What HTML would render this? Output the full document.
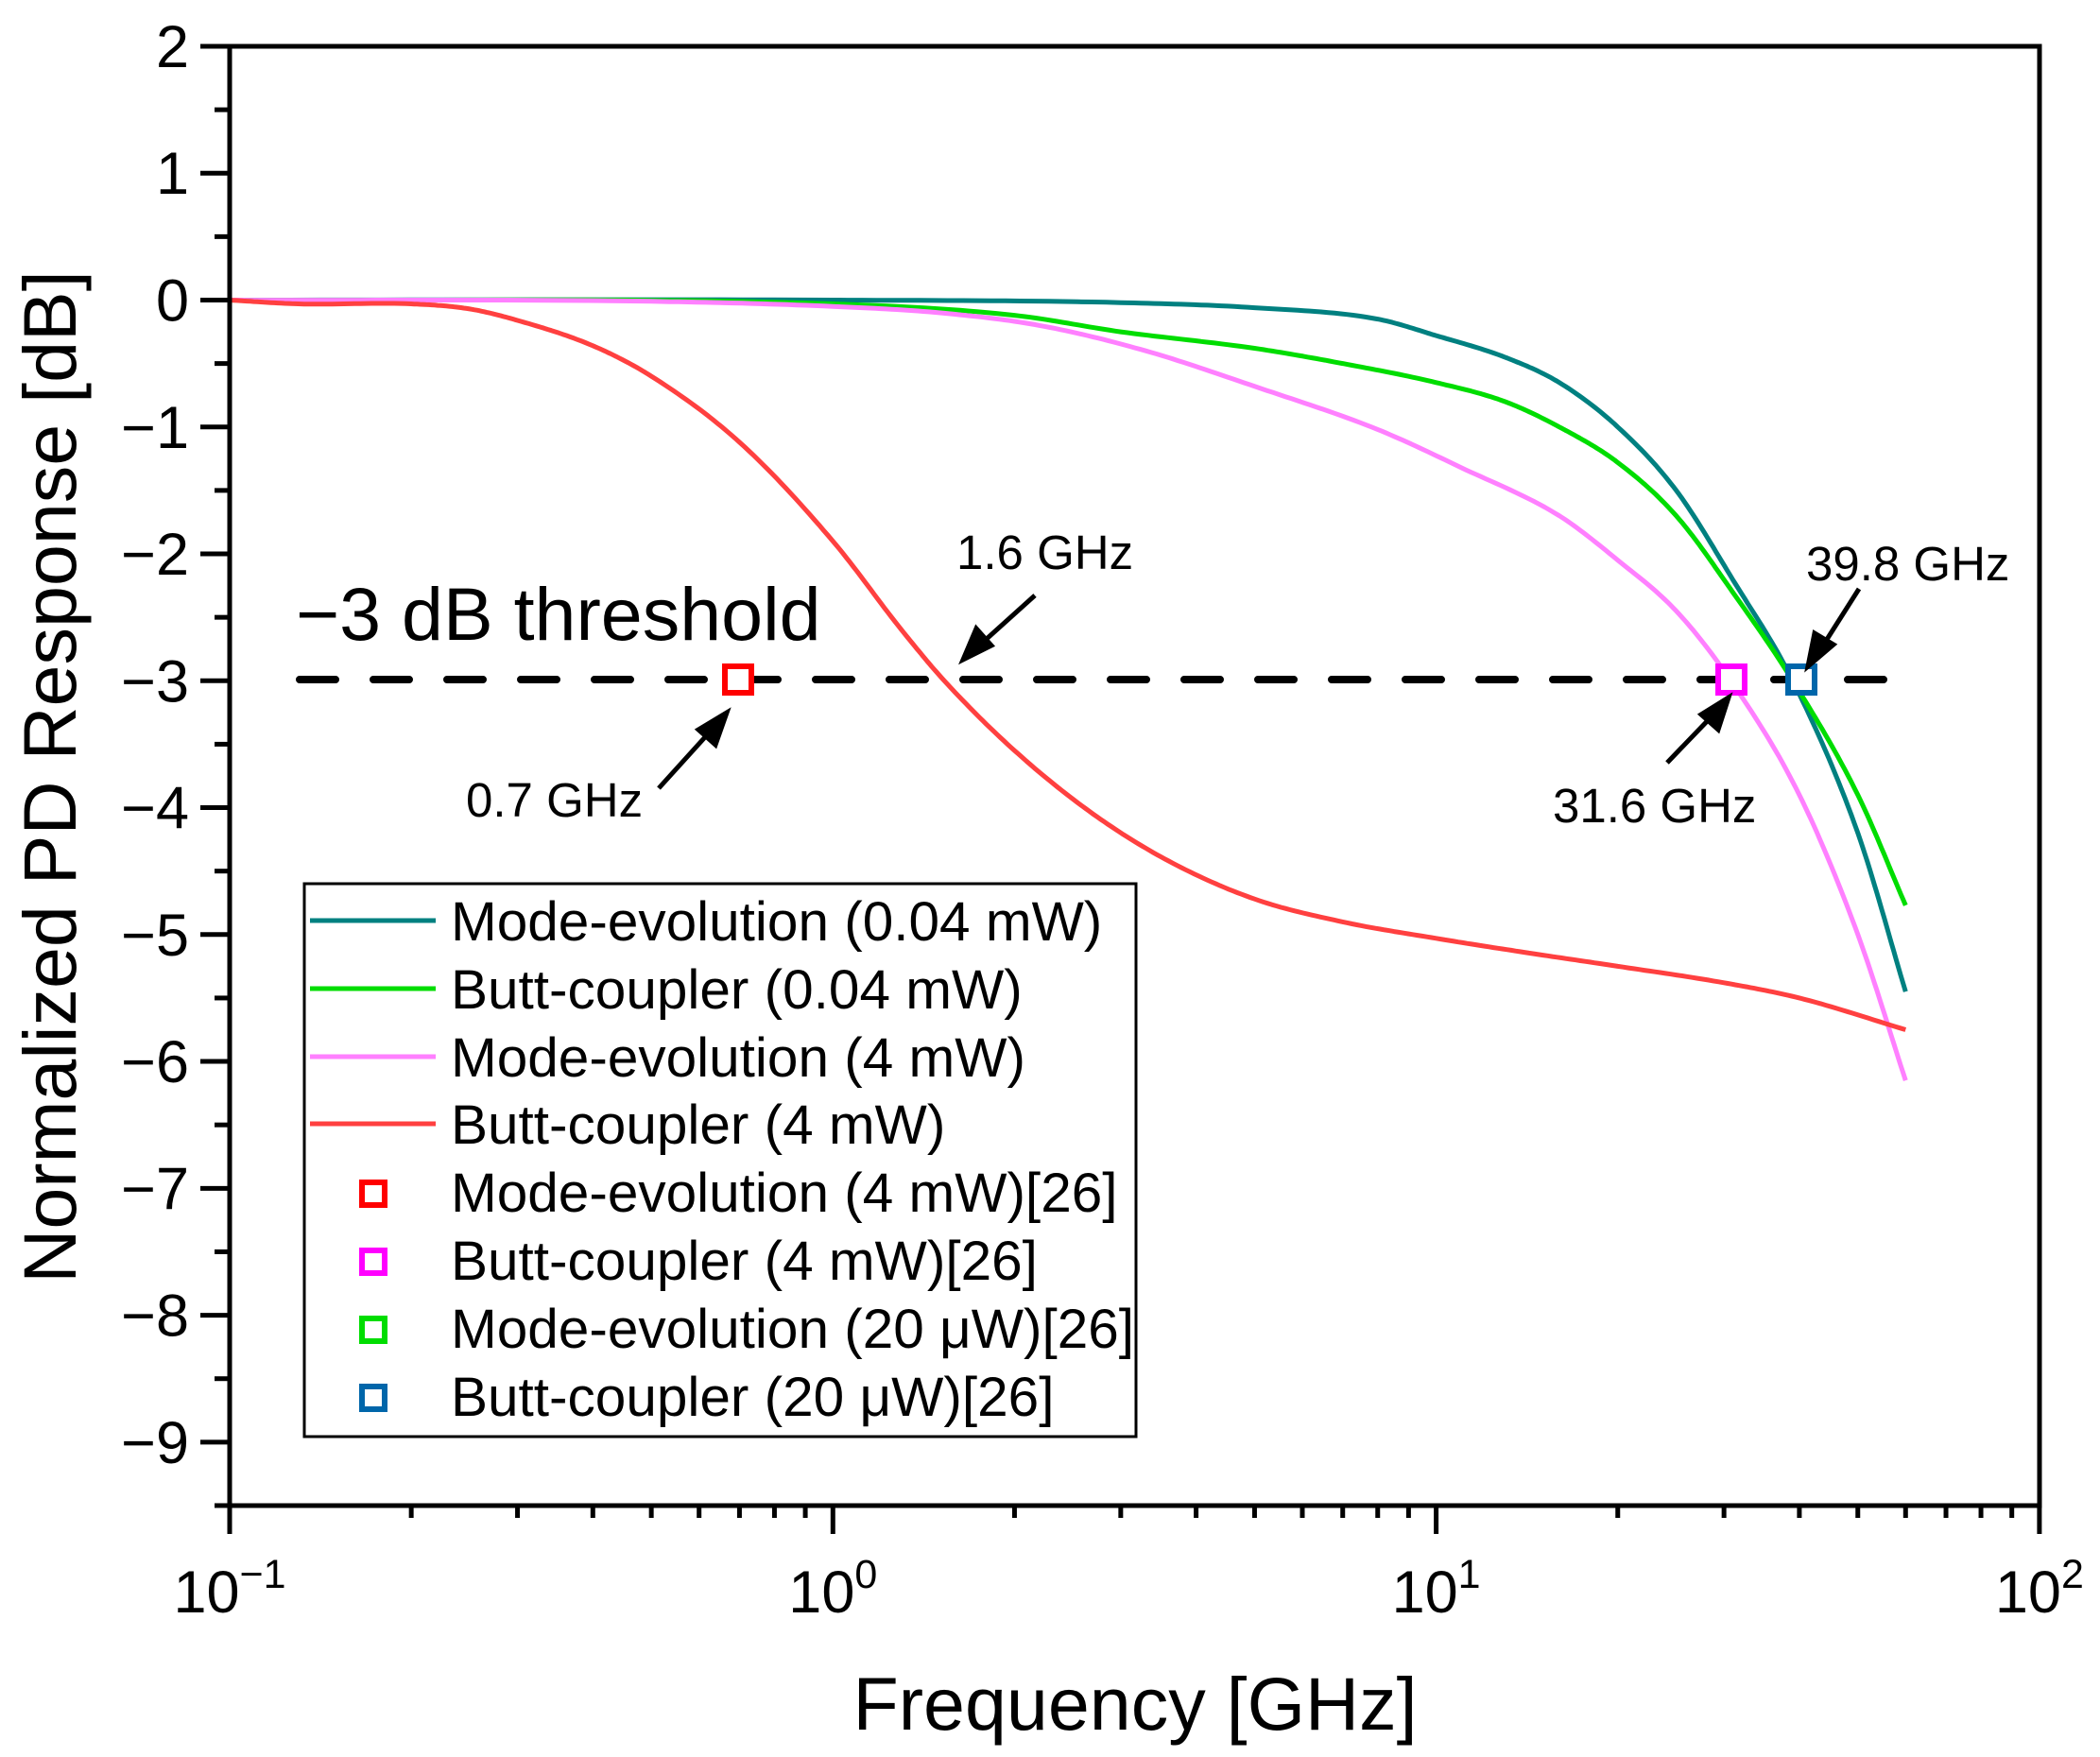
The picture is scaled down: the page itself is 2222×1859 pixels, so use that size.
<!DOCTYPE html>
<html><head><meta charset="utf-8"><style>
html,body{margin:0;padding:0;background:#fff}
svg{display:block}
text{font-family:"Liberation Sans",Arial,sans-serif;fill:#000}
</style></head><body>
<svg id="s" width="2222" height="1859" viewBox="0 0 2222 1859" xmlns="http://www.w3.org/2000/svg">
<g id="ticks" stroke="#000" stroke-width="5"></g>
<g id="curves" fill="none" stroke-width="5" stroke-linejoin="round"></g>
<line x1="317" y1="719" x2="1997" y2="719" stroke="#000" stroke-width="8" stroke-dasharray="38 40" stroke-linecap="round"/>
<g fill="#fff" stroke-width="6">
<rect x="767" y="705" width="28" height="28" stroke="#ff0000"/>
<rect x="1818" y="705" width="28" height="28" stroke="#ff00ff"/>
<rect x="1892" y="705" width="28" height="28" stroke="#0066aa"/>
</g>
<rect x="243" y="49" width="1915" height="1544" fill="none" stroke="#000" stroke-width="5"/>
<g stroke="#000" stroke-width="5" fill="#000">
<line x1="1095" y1="630" x2="1035" y2="684"/><polygon points="1019,698 1033,665 1049,683"/>
<line x1="697" y1="834" x2="755" y2="770"/><polygon points="769,754 757,788 739,772"/>
<line x1="1764" y1="807" x2="1815" y2="754"/><polygon points="1829,738 1818,772 1800,756"/>
<line x1="1967" y1="623" x2="1927" y2="686"/><polygon points="1913,705 1920,670 1940,682"/>
</g>
<g font-size="51">
<text x="1012" y="602">1.6 GHz</text>
<text x="493" y="864">0.7 GHz</text>
<text x="1643" y="870">31.6 GHz</text>
<text x="1911" y="614">39.8 GHz</text>
</g>
<text x="313" y="677" font-size="79">−3 dB threshold</text>
<g id="tl" font-size="63" text-anchor="end"></g>
<g id="xl" font-size="63" text-anchor="middle"></g>
<text transform="translate(80,822) rotate(-90)" font-size="79" text-anchor="middle">Normalized PD Response [dB]</text>
<text x="1201" y="1830" font-size="79" text-anchor="middle">Frequency [GHz]</text>
<rect x="322" y="935" width="880" height="585" fill="#fff" stroke="#000" stroke-width="3"/>
<g stroke-width="5">
<line x1="328" y1="974" x2="461" y2="974" stroke="#008080"/>
<line x1="328" y1="1046" x2="461" y2="1046" stroke="#00dd00"/>
<line x1="328" y1="1118" x2="461" y2="1118" stroke="#ff80ff"/>
<line x1="328" y1="1189" x2="461" y2="1189" stroke="#ff4040"/>
</g>
<g fill="#fff" stroke-width="6">
<rect x="383" y="1251" width="24" height="24" stroke="#ff0000"/>
<rect x="383" y="1323" width="24" height="24" stroke="#ff00ff"/>
<rect x="383" y="1395" width="24" height="24" stroke="#00dd00"/>
<rect x="383" y="1467" width="24" height="24" stroke="#0066aa"/>
</g>
<g font-size="58.5">
<text x="477" y="995">Mode-evolution (0.04 mW)</text>
<text x="477" y="1067">Butt-coupler (0.04 mW)</text>
<text x="477" y="1139">Mode-evolution (4 mW)</text>
<text x="477" y="1210">Butt-coupler (4 mW)</text>
<text x="477" y="1282">Mode-evolution (4 mW)[26]</text>
<text x="477" y="1354">Butt-coupler (4 mW)[26]</text>
<text x="477" y="1426">Mode-evolution (20 μW)[26]</text>
<text x="477" y="1498">Butt-coupler (20 μW)[26]</text>
</g>
</svg>
<script>
const NS="http://www.w3.org/2000/svg";
const X=f=>243+638.3*(Math.log10(f)+1), Y=v=>317.5-134.26*v;
function el(p,t,a,txt){const e=document.createElementNS(NS,t);for(const k in a)e.setAttribute(k,a[k]);if(txt)e.textContent=txt;document.getElementById(p).appendChild(e);return e;}
for(let v=2;v>=-9.5;v-=0.5){const y=Y(v);const maj=Math.abs(v-Math.round(v))<0.01;
el("ticks","line",{x1:maj?212:227,x2:243,y1:y,y2:y});
if(maj){el("tl","text",{x:200,y:y+22},(v<0?"−":"")+Math.abs(v));}}
for(let d=-1;d<=1;d++)for(let m=1;m<=9;m++){const x=X(m*Math.pow(10,d));el("ticks","line",{x1:x,x2:x,y1:1593,y2:m==1?1623:1606});}
el("ticks","line",{x1:X(100),x2:X(100),y1:1593,y2:1623});
[-1,0,1,2].forEach(d=>{const x=X(Math.pow(10,d));const t=el("xl","text",{x:x,y:1706});
const a=document.createElementNS(NS,"tspan");a.textContent="10";t.appendChild(a);
const b=document.createElementNS(NS,"tspan");b.setAttribute("dy","-26");b.setAttribute("font-size","43");b.textContent=d<0?"−1":String(d);t.appendChild(b);});
function mono(pts){
 const out=[];const xs=pts.map(p=>Math.log10(p[0])),ys=pts.map(p=>p[1]);
 const n=xs.length,m=[];
 for(let i=0;i<n;i++){if(i==0)m.push((ys[1]-ys[0])/(xs[1]-xs[0]));else if(i==n-1)m.push((ys[n-1]-ys[n-2])/(xs[n-1]-xs[n-2]));else m.push(((ys[i+1]-ys[i])/(xs[i+1]-xs[i])+(ys[i]-ys[i-1])/(xs[i]-xs[i-1]))/2);}
 for(let i=0;i<n-1;i++){const h=xs[i+1]-xs[i];for(let k=0;k<20;k++){const t=k/20;const h00=2*t*t*t-3*t*t+1,h10=t*t*t-2*t*t+t,h01=-2*t*t*t+3*t*t,h11=t*t*t-t*t;
 const y=h00*ys[i]+h10*h*m[i]+h01*ys[i+1]+h11*h*m[i+1];out.push([243+638.3*(xs[i]+t*h+1),Y(y)]);}}
 out.push([243+638.3*(xs[n-1]+1),Y(ys[n-1])]);return out.map(p=>p[0].toFixed(1)+","+p[1].toFixed(1)).join(" ");}
const S={
"#008080":[[0.1,0],[1,0],[3,-0.02],[5,-0.06],[8,-0.15],[10,-0.28],[13,-0.45],[16,-0.65],[20,-1],[25,-1.5],[31,-2.2],[39,-3],[50,-4.2],[60,-5.45]],
"#00dd00":[[0.1,0],[1,-0.03],[2,-0.12],[3,-0.25],[5,-0.38],[7,-0.5],[10,-0.65],[13,-0.8],[16,-1],[20,-1.28],[25,-1.7],[31,-2.3],[39,-3],[50,-3.9],[60,-4.77]],
"#ff80ff":[[0.1,0],[0.5,-0.01],[1,-0.05],[1.5,-0.1],[2.2,-0.2],[3.3,-0.4],[5,-0.68],[8,-1.02],[11,-1.32],[16,-1.7],[20,-2.05],[25,-2.45],[30.8,-3],[40,-3.9],[50,-5],[60,-6.15]],
"#ff4040":[[0.1,0],[0.13,-0.03],[0.2,-0.03],[0.25,-0.07],[0.3,-0.16],[0.4,-0.36],[0.5,-0.6],[0.7,-1.12],[1,-1.9],[1.3,-2.6],[1.53,-3],[2,-3.55],[2.7,-4.05],[3.6,-4.42],[5,-4.72],[7,-4.9],[10,-5.03],[14,-5.14],[20,-5.25],[30,-5.38],[40,-5.5],[60,-5.75]]};
for(const c in S)el("curves","polyline",{points:mono(S[c]),stroke:c});
</script>
</body></html>
